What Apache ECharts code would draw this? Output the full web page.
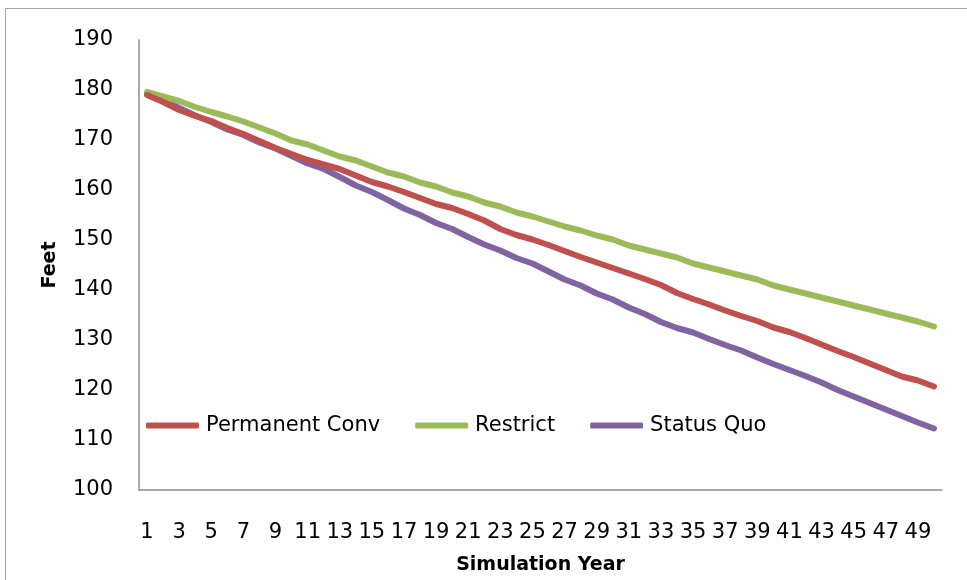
<!DOCTYPE html>
<html>
<head>
<meta charset="utf-8">
<title>Simulation Year vs Feet</title>
<script src="https://cdn.jsdelivr.net/npm/echarts@6/dist/echarts.min.js"></script>
<style>
  html, body { margin: 0; padding: 0; background: #ffffff; }
  #chart { width: 967px; height: 580px; }
</style>
</head>
<body>
<div id="chart"></div>
<script>
// Simulation years (category axis)
const years = ['1','2','3','4','5','6','7','8','9','10',
  '11','12','13','14','15','16','17','18','19','20',
  '21','22','23','24','25','26','27','28','29','30',
  '31','32','33','34','35','36','37','38','39','40',
  '41','42','43','44','45','46','47','48','49','50'];

// Water level (feet) for each scenario
const permanentConv = [179.0,177.6,176.0,174.8,173.8,172.4,171.2,169.8,168.4,167.2,
  166.0,165.1,164.2,162.9,161.6,160.7,159.6,158.4,157.2,156.4,
  155.2,153.9,152.2,151.0,150.1,149.0,147.8,146.6,145.5,144.4,
  143.3,142.2,141.0,139.4,138.2,137.1,135.9,134.8,133.8,132.5,
  131.6,130.4,129.1,127.8,126.6,125.3,124.0,122.7,121.9,120.7];

const restrict = [179.6,178.7,177.8,176.6,175.6,174.7,173.7,172.5,171.3,169.9,
  169.1,167.9,166.7,165.9,164.7,163.5,162.7,161.5,160.7,159.5,
  158.7,157.5,156.7,155.5,154.7,153.7,152.7,151.9,150.9,150.1,
  148.9,148.1,147.3,146.5,145.3,144.5,143.7,142.9,142.1,140.9,
  140.1,139.3,138.5,137.7,136.9,136.1,135.3,134.5,133.7,132.7];

const statusQuo = [179.5,178.0,176.4,174.9,173.6,172.1,171.0,169.5,168.3,166.8,
  165.3,164.2,162.6,160.9,159.6,158.0,156.3,155.0,153.4,152.2,
  150.6,149.1,147.9,146.4,145.3,143.7,142.1,140.9,139.3,138.1,
  136.5,135.2,133.6,132.4,131.5,130.2,129.0,127.9,126.5,125.2,
  124.0,122.8,121.5,120.0,118.7,117.4,116.1,114.8,113.5,112.3];

const seriesNames = ['Permanent Conv', 'Restrict', 'Status Quo'];
const seriesColors = ['#C0504D', '#9BBB59', '#8064A2'];
const seriesData = [permanentConv, restrict, statusQuo];

const chart = echarts.init(document.getElementById('chart'), null, { renderer: 'canvas' });

const tickFont = { fontFamily: 'DejaVu Sans', fontSize: 21, color: '#000000' };
const nameFont = { fontFamily: 'DejaVu Sans', fontSize: 19, fontWeight: 'bold', color: '#000000' };

chart.setOption({
  animation: false,
  backgroundColor: '#ffffff',
  graphic: [{
    type: 'rect',
    shape: { x: 5.5, y: 8.5, width: 1000, height: 620 },
    style: { fill: 'none', stroke: '#a6a6a6', lineWidth: 1 },
    silent: true,
    z: -10
  }],
  grid: { left: 139, right: 25, top: 40, bottom: 89, containLabel: false },
  legend: {
    left: 141,
    top: 410,
    icon: 'roundRect',
    itemWidth: 53,
    itemHeight: 6,
    itemGap: 35,
    textStyle: { fontFamily: 'DejaVu Sans', fontSize: 21, color: '#000000', padding: [0, 0, 0, 2] },
    data: seriesNames
  },
  xAxis: {
    type: 'category',
    data: years,
    boundaryGap: true,
    name: 'Simulation Year',
    nameLocation: 'middle',
    nameGap: 66,
    nameTextStyle: nameFont,
    axisLine: { show: true, lineStyle: { color: '#8c8c8c', width: 1.5 } },
    axisTick: { show: false },
    axisLabel: Object.assign({ interval: 1, margin: 32 }, tickFont),
    splitLine: { show: false }
  },
  yAxis: {
    type: 'value',
    min: 100,
    max: 190,
    interval: 10,
    name: 'Feet',
    nameLocation: 'middle',
    nameGap: 79,
    nameTextStyle: nameFont,
    axisLine: { show: true, lineStyle: { color: '#8c8c8c', width: 1.5 } },
    axisTick: { show: false },
    axisLabel: Object.assign({ margin: 26 }, tickFont),
    splitLine: { show: false }
  },
  series: seriesNames.map((name, i) => ({
    name: name,
    type: 'line',
    data: seriesData[i],
    showSymbol: false,
    symbol: 'none',
    color: seriesColors[i],
    lineStyle: { width: 6, color: seriesColors[i], cap: 'round', join: 'round' },
    itemStyle: { color: seriesColors[i] },
    z: 2 + (2 - i)
  }))
});
</script>
</body>
</html>
